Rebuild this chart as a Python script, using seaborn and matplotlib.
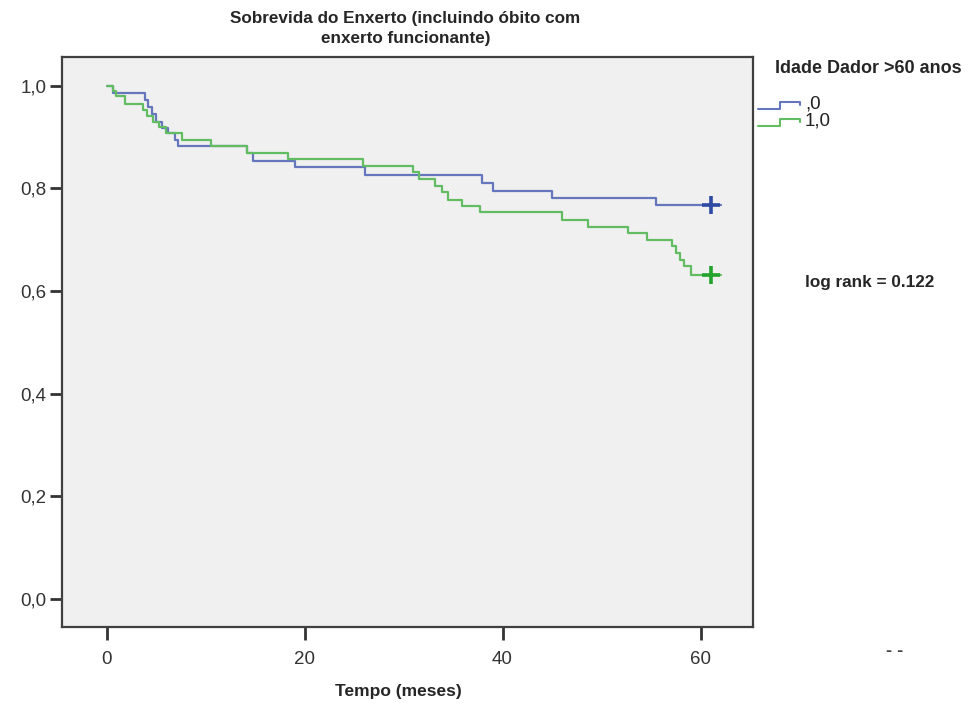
import numpy as np
import pandas as pd
import matplotlib
matplotlib.use("Agg")
import matplotlib.pyplot as plt
from matplotlib.lines import Line2D
from matplotlib.ticker import FuncFormatter
import seaborn as sns

sns.set_style("white")
plt.rcParams["font.family"] = ["Liberation Sans", "DejaVu Sans"]

# Kaplan-Meier steps (time in months, survival)
tempo_0 = [0, 0.65, 3.9, 4.2, 4.6, 5.0, 5.6, 6.2, 6.9, 7.2, 14.2, 14.8, 19.0,
           26.1, 37.9, 39.0, 45.0, 55.5, 62.1]
surv_0 = [1.0, 0.986, 0.972, 0.958, 0.944, 0.930, 0.918, 0.908, 0.894, 0.882,
          0.869, 0.854, 0.842, 0.826, 0.811, 0.795, 0.782, 0.768, 0.768]

tempo_1 = [0, 0.65, 1.0, 1.9, 3.7, 4.1, 4.7, 5.3, 6.0, 7.6, 10.5, 14.2, 18.3,
           25.9, 31.0, 31.6, 33.2, 33.9, 34.5, 35.9, 37.7, 46.0, 48.6, 52.7,
           54.6, 57.1, 57.5, 57.9, 58.3, 59.0, 62.1]
surv_1 = [1.0, 0.99, 0.979, 0.965, 0.952, 0.940, 0.930, 0.920, 0.908, 0.895,
          0.883, 0.869, 0.858, 0.844, 0.832, 0.819, 0.805, 0.792, 0.778, 0.765,
          0.753, 0.739, 0.725, 0.713, 0.700, 0.687, 0.674, 0.661, 0.648, 0.632,
          0.632]

# censored observations
cens_tempo = [61.1, 61.1]
cens_surv = [0.768, 0.632]
grupos = [",0", "1,0"]

cor_linha = {",0": "#6576bd", "1,0": "#62bd62"}
cor_cens = {",0": "#2f4aa3", "1,0": "#23a32c"}

df = pd.concat([
    pd.DataFrame({"Tempo": tempo_0, "Sobrevida": surv_0, "grupo": ",0"}),
    pd.DataFrame({"Tempo": tempo_1, "Sobrevida": surv_1, "grupo": "1,0"}),
])
cens = pd.DataFrame({"Tempo": cens_tempo, "Sobrevida": cens_surv, "grupo": grupos})

fig = plt.figure(figsize=(9.72, 7.06), dpi=100)
ax = fig.add_axes([0.0638, 0.1119, 0.7109, 0.8074])
ax.set_facecolor("#f0f0f0")

sns.lineplot(data=df, x="Tempo", y="Sobrevida", hue="grupo", palette=cor_linha,
             estimator=None, sort=False, drawstyle="steps-post", linewidth=1.6,
             legend=False, ax=ax)
for g in grupos:
    sub = cens[cens["grupo"] == g]
    ax.plot(sub["Tempo"], sub["Sobrevida"], linestyle="none", marker="+",
            markersize=13, markeredgewidth=2.6, color=cor_cens[g])

ax.set_xlim(-4.5, 65.3)
ax.set_ylim(-0.055, 1.056)
ax.set_xticks([0, 20, 40, 60])
ax.set_yticks([0, 0.2, 0.4, 0.6, 0.8, 1.0])
ax.yaxis.set_major_formatter(FuncFormatter(lambda v, p: f"{v:.1f}".replace(".", ",")))
ax.tick_params(axis="both", direction="out", length=9, width=2, color="#333333",
               labelsize=13.5, labelcolor="#333333", left=True, bottom=True)
ax.tick_params(axis="x", pad=8)
ax.tick_params(axis="y", pad=2)
for s in ax.spines.values():
    s.set_color("#404040")
    s.set_linewidth(1.6)

ax.set_xlabel("Tempo (meses)", fontsize=12.5, fontweight="bold")
ax.xaxis.set_label_coords(0.487, -0.1)
ax.set_ylabel("")

fig.text(0.417, 0.985, "Sobrevida do Enxerto (incluindo óbito com\nenxerto funcionante)",
         ha="center", va="top", fontsize=12.3, fontweight="bold", linespacing=1.45)

# legend outside the axes with step-shaped glyphs
fig.text(0.797, 0.903, "Idade Dador >60 anos", fontsize=13, fontweight="bold",
         ha="left", va="center")
W, H = 972.0, 706.0
for g, y0 in zip(grupos, [109, 126]):
    xs = np.array([758, 780, 780, 800, 800]) / W
    ys = 1 - np.array([y0, y0, y0 - 7, y0 - 7, y0 - 4]) / H
    fig.add_artist(Line2D(xs, ys, color=cor_linha[g], linewidth=1.5))
    fig.text(805 / W, 1 - (y0 - 5) / H, g, fontsize=13.5, ha="left", va="center",
             color="#222222")

fig.text(805 / W, 1 - 283 / H, "log rank = 0.122", fontsize=12.3,
         fontweight="bold", ha="left", va="center")
fig.text(886 / W, 1 - 651 / H, "- -", fontsize=13, fontweight="bold",
         color="#444444", ha="left", va="center")

fig.savefig("out.png", dpi=100, facecolor="white")
